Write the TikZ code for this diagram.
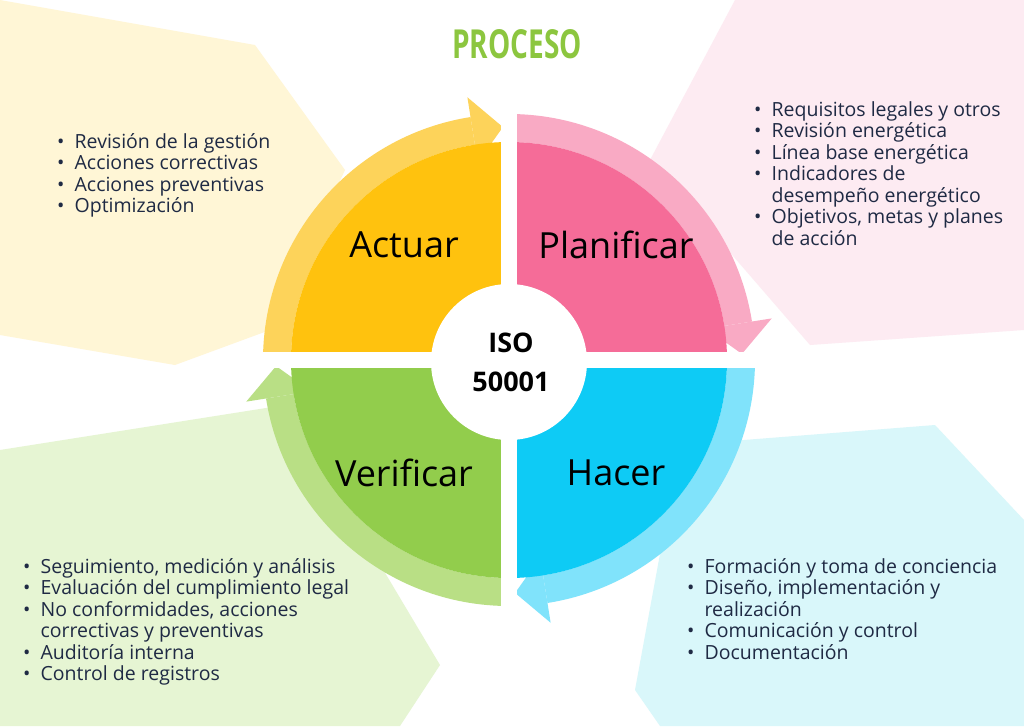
\documentclass[tikz,border=0pt]{standalone}
\usepackage{fontspec}
\setmainfont{Open Sans}
\usetikzlibrary{positioning}
\definecolor{actdark}{HTML}{FFC20E}
\definecolor{actlight}{HTML}{FDD35A}
\definecolor{pladark}{HTML}{F56C98}
\definecolor{plalight}{HTML}{F9AAC4}
\definecolor{hacdark}{HTML}{0ECBF5}
\definecolor{haclight}{HTML}{80E3FB}
\definecolor{verdark}{HTML}{92CD4C}
\definecolor{verlight}{HTML}{B9DF85}
\definecolor{actbg}{HTML}{FFF6D6}
\definecolor{plabg}{HTML}{FDEBF2}
\definecolor{hacbg}{HTML}{D9F7FA}
\definecolor{verbg}{HTML}{E6F5D3}
\definecolor{titlegreen}{HTML}{8CC63F}
\definecolor{listtext}{HTML}{1F2A44}
\newcommand{\bl}{\textbullet}
\tikzset{
  listbox/.style={anchor=north west, inner sep=0pt, align=left, text=listtext,
    font=\fontsize{19.5}{21.5}\selectfont},
  quadlabel/.style={font=\fontsize{36}{40}\selectfont},
  isolabel/.style={font=\bfseries\fontsize{27}{39}\selectfont, align=center},
}
\begin{document}
\begin{tikzpicture}[x=1pt, y=-1pt]
\path[use as bounding box, fill=white] (0,0) rectangle (1024,726);
% fondos
\fill[actbg] (0,0) -- (255,45) -- (345,170) -- (270,330) -- (175,365) -- (0,335) -- cycle;
\fill[plabg] (735,0) -- (1024,0) -- (1024,330) -- (810,345) -- (650,160) -- cycle;
\fill[verbg] (0,450) -- (285,405) -- (440,665) -- (400,726) -- (0,726) -- cycle;
\fill[hacbg] (680,445) -- (935,425) -- (1024,520) -- (1024,726) -- (660,726) -- (635,690) -- cycle;
\node[font=\bfseries\fontsize{40}{44}\selectfont, text=titlegreen] (titulo) at (517,44)
  {\scalebox{0.7}[1]{PROCESO}};
% ciclo
\begin{scope}[shift={(509,360)}, yscale=-1]
\foreach \a/\dk/\lt in {180/actdark/actlight, 90/pladark/plalight, 0/hacdark/haclight, 270/verdark/verlight}{
  \fill[\lt] (\a:218) arc[start angle=\a, end angle=\a-81, radius=218]
    -- (\a-81:246) arc[start angle=\a-81, end angle=\a, radius=246] -- cycle;
  \fill[\lt] (\a-81:200) -- (\a-81:266) -- (\a-88.5:233) -- cycle;
  \fill[\dk] (0,0) -- (\a:218) arc[start angle=\a, end angle=\a-90, radius=218] -- cycle;
}
\draw[white, line width=16pt] (-280,0) -- (280,0);
\draw[white, line width=16pt] (0,-280) -- (0,280);
\fill[white] (0,-2) circle (78);
\end{scope}
\node[quadlabel] (actuar) at (404,245) {Actuar};
\node[quadlabel] (planificar) at (616,245) {Planificar};
\node[quadlabel] (verificar) at (404,473) {Verificar};
\node[quadlabel] (hacer) at (616,473) {Hacer};
\node[isolabel] (iso) at (511,362) {ISO\\50001};
% listas
\node[listbox] (lactuar) at (57,133) {\bl\ \ Revisión de la gestión\\\bl\ \ Acciones correctivas\\
  \bl\ \ Acciones preventivas\\\bl\ \ Optimización};
\node[listbox] (lplanificar) at (754,101) {\bl\ \ Requisitos legales y otros\\\bl\ \ Revisión energética\\
  \bl\ \ Línea base energética\\\bl\ \ Indicadores de\\\hphantom{\bl\ \ }desempeño energético\\
  \bl\ \ Objetivos, metas y planes\\\hphantom{\bl\ \ }de acción};
\node[listbox] (lverificar) at (23,558) {\bl\ \ Seguimiento, medición y análisis\\
  \bl\ \ Evaluación del cumplimiento legal\\\bl\ \ No conformidades, acciones\\
  \hphantom{\bl\ \ }correctivas y preventivas\\\bl\ \ Auditoría interna\\\bl\ \ Control de registros};
\node[listbox] (lhacer) at (687,558) {\bl\ \ Formación y toma de conciencia\\
  \bl\ \ Diseño, implementación y\\\hphantom{\bl\ \ }realización\\
  \bl\ \ Comunicación y control\\\bl\ \ Documentación};
\end{tikzpicture}
\end{document}
